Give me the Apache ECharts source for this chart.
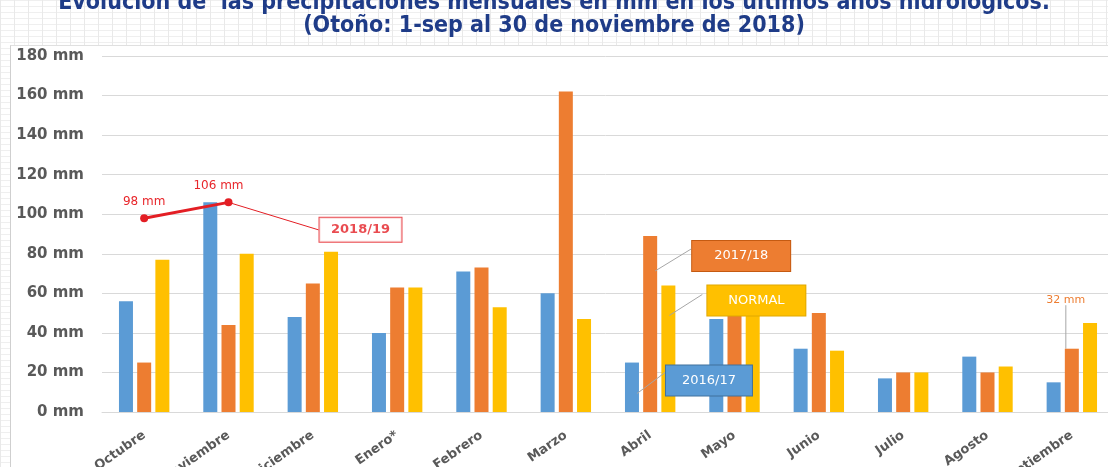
<!DOCTYPE html>
<html>
<head>
<meta charset="utf-8">
<script src="https://cdn.jsdelivr.net/npm/echarts@6/dist/echarts.min.js"></script>
<style>
  html, body { margin: 0; padding: 0; background: #fff; overflow: hidden; }
  #sheet {
    position: absolute; left: 0; top: 0; width: 1108px; height: 467px;
    background-color: #fff;
    background-image:
      linear-gradient(to right, #e9e9e9 1px, transparent 1px),
      linear-gradient(to bottom, #efefef 1px, transparent 1px);
    background-size: 14px 6px;
  }
  #panel {
    position: absolute; left: 10px; top: 45px; width: 1098px; height: 422px;
    background: #fff; border-left: 1px solid #cfcfcf; border-top: 1px solid #e0e0e0;
  }
  #chart { position: absolute; left: 0; top: 0; width: 1108px; height: 467px; }
</style>
</head>
<body>
<div id="sheet"></div>
<div id="panel"></div>
<div id="chart"></div>
<script>
// año hidrológico: octubre a septiembre
const categories = ['Octubre', 'Noviembre', 'Diciembre', 'Enero*', 'Febrero', 'Marzo',
  'Abril', 'Mayo', 'Junio', 'Julio', 'Agosto', 'Septiembre']
const rain1617 = [56, 106, 48, 40, 71, 60, 25, 47, 32, 17, 28, 15]
const rain1718 = [25, 44, 65, 63, 73, 162, 89, 52, 50, 20, 20, 32]
const rainNormal = [77, 80, 81, 63, 53, 47, 64, 54, 31, 20, 23, 45]
const rain1819 = [98, 106, null, null, null, null, null, null, null, null, null, null]
const yTicks = [0, 20, 40, 60, 80, 100, 120, 140, 160, 180]

const AXIS_FONT = 'DejaVu Sans'
const LABEL_FONT = 'DejaVu Sans'

// cajas tipo "callout" de Excel
const boxLabel = (text, bg, border, width) => ({
  show: true,
  formatter: text,
  color: '#fff',
  fontFamily: LABEL_FONT,
  fontSize: 13,
  backgroundColor: bg,
  borderColor: border,
  borderWidth: 1,
  padding: [7, 9, 7, 9],
  width: width,
  lineHeight: 16
})

// dx/dy: centro de la caja respecto a la parte superior de la barra
// lead: línea guía [desde, hasta], también relativa a la barra
const callouts = {
  s1617: [{ index: 6, dx: 77, dy: 18, lead: [[5, 31], [33, 10]],
    label: boxLabel('2016/17', '#5B9BD5', '#41719C', 68) }],
  s1718: [
    { index: 6, dx: 91, dy: 20, lead: [[5, 35], [41, 13]],
      label: boxLabel('2017/18', '#ED7D31', '#C55A11', 80) },
    { index: 11, dx: -6, dy: -49,
      label: { show: true, formatter: '32 mm', color: '#ED7D31', fontFamily: LABEL_FONT, fontSize: 11 } }
  ],
  sNormal: [{ index: 6, dx: 88, dy: 15, lead: [[1, 30], [34, 9]],
    label: boxLabel('NORMAL', '#FFC000', '#E0A800', 80) }]
}

// rectángulos de barra recogidos durante el layout de etiquetas
const leadLines = {}

function withCallouts(values, list) {
  return values.map((v, i) => {
    const c = list.find(c => c.index === i)
    if (!c) return v
    return c.lead
      ? { value: v, label: c.label, labelLine: { show: false } }
      : { value: v, label: c.label }
  })
}

function calloutLayout(key, list) {
  return p => {
    const c = list.find(c => c.index === p.dataIndex)
    if (!c) return {}
    const cx = p.rect.x + p.rect.width / 2
    const top = p.rect.y
    if (c.lead) {
      leadLines[key + c.index] = c.lead.map(([x, y]) => [cx + x, top + y])
    }
    return { x: cx + c.dx, y: top + c.dy, align: 'center', verticalAlign: 'middle' }
  }
}

function barSeries(name, key, values, color, list) {
  return {
    name,
    type: 'bar',
    barWidth: 14,
    barGap: '30%',
    itemStyle: { color },
    label: { show: false },
    labelLine: { show: true, lineStyle: { color: '#A6A6A6', width: 1 } },
    labelLayout: calloutLayout(key, list),
    data: withCallouts(values, list)
  }
}

const chart = echarts.init(document.getElementById('chart'))

const callout1819 = [{
  index: 1, dx: 132, dy: 28,
  label: {
    show: true, formatter: '2018/19', color: '#E31E24', fontFamily: LABEL_FONT,
    fontWeight: 'bold', fontSize: 13, backgroundColor: '#fff', borderColor: '#E31E24',
    borderWidth: 1, padding: [4, 10, 4, 10], width: 62, lineHeight: 16, align: 'center'
  }
}]

chart.setOption({
  animation: false,
  title: {
    text: 'Evolución de  las precipitaciones mensuales en mm en los últimos años hidrológicos.\n(Otoño: 1-sep al 30 de noviembre de 2018)',
    left: 'center',
    top: -13,
    textStyle: {
      fontFamily: 'DejaVu Sans Condensed',
      fontWeight: 'bold',
      fontSize: 23,
      lineHeight: 23,
      color: '#1F3C88'
    }
  },
  grid: { left: 102, right: -6, top: 56, bottom: 55, outerBoundsMode: 'none', containLabel: false },
  xAxis: {
    type: 'category',
    data: categories,
    axisTick: { show: false },
    axisLine: { lineStyle: { color: '#D9D9D9' } },
    axisLabel: {
      rotate: 35,
      margin: 22,
      interval: 0,
      color: '#595959',
      fontFamily: AXIS_FONT,
      fontWeight: 'bold',
      fontSize: 13
    }
  },
  yAxis: {
    type: 'value',
    min: yTicks[0],
    max: yTicks[yTicks.length - 1],
    interval: yTicks[1] - yTicks[0],
    axisLine: { show: false },
    axisTick: { show: false },
    splitLine: { lineStyle: { color: '#D9D9D9' } },
    axisLabel: {
      formatter: '{value} mm',
      margin: 18,
      color: '#595959',
      fontFamily: AXIS_FONT,
      fontWeight: 'bold',
      fontSize: 15
    }
  },
  series: [
    barSeries('2016/17', 's1617', rain1617, '#5B9BD5', callouts.s1617),
    barSeries('2017/18', 's1718', rain1718, '#ED7D31', callouts.s1718),
    barSeries('NORMAL', 'sNormal', rainNormal, '#FFC000', callouts.sNormal),
    {
      name: '2018/19',
      type: 'line',
      z: 4,
      symbol: 'circle',
      symbolSize: 8,
      itemStyle: { color: '#E31E24' },
      lineStyle: { color: '#E31E24', width: 3 },
      label: {
        show: true,
        position: 'top',
        formatter: '{c} mm',
        color: '#E8262B',
        fontFamily: LABEL_FONT,
        fontSize: 12,
        distance: 6
      },
      data: rain1819.map((v, i) => i === 1 ? { value: v, label: { offset: [-10, 0] } } : v)
    },
    {
      // solo para la etiqueta "2018/19" con su línea guía
      name: '2018/19 etiqueta',
      type: 'scatter',
      z: 4,
      symbolSize: 1,
      itemStyle: { color: 'rgba(0,0,0,0)' },
      label: { show: false },
      labelLine: { show: true, lineStyle: { color: '#E31E24', width: 1 } },
      labelLayout: calloutLayout('s1819', callout1819),
      data: withCallouts(rain1819, callout1819)
    }
  ]
})

// líneas guía de las cajas de Abril, ancladas a las barras ya dibujadas
chart.setOption({
  graphic: Object.keys(leadLines).map(k => {
    const [a, b] = leadLines[k]
    return {
      type: 'line',
      silent: true,
      z: 3,
      shape: { x1: a[0], y1: a[1], x2: b[0], y2: b[1] },
      style: { stroke: '#A6A6A6', lineWidth: 1 }
    }
  })
})
</script>
</body>
</html>
